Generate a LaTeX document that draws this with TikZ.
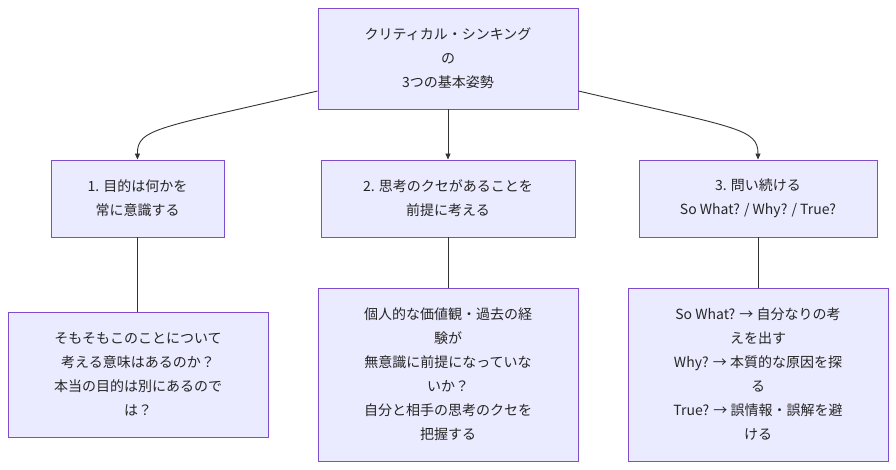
\documentclass[tikz,border=0pt]{standalone}
\usepackage{fontspec}
\setmainfont{Noto Sans CJK JP}
\usetikzlibrary{arrows.meta}
\begin{document}
\begin{tikzpicture}[x=1pt,y=-1pt,
  box/.style={draw=violet!55!blue!70!white, fill=blue!8, line width=0.9pt, align=center, font=\fontsize{14}{24}\selectfont, inner sep=0pt, text=black!85},
  conn/.style={draw=black!80, line width=0.9pt},
  arr/.style={conn,-{Triangle[length=6pt,width=5pt]}}]
\useasboundingbox (0,0) rectangle (896,470);
\node[box, minimum width=260pt, minimum height=101pt] (t) at (448,58.5) {クリティカル・シンキング\\の\\3つの基本姿勢};
\node[box, minimum width=173pt, minimum height=77pt] (a1) at (137.5,198.5) {1. 目的は何かを\\常に意識する};
\node[box, minimum width=254pt, minimum height=77pt] (a2) at (448,198.5) {2. 思考のクセがあることを\\前提に考える};
\node[box, minimum width=238pt, minimum height=77pt] (a3) at (758,198.5) {3. 問い続ける\\So What? / Why? / True?};
\node[box, minimum width=260pt, minimum height=125pt] (b1) at (138,374.5) {そもそもこのことについて\\考える意味はあるのか？\\本当の目的は別にあるので\\は？};
\node[box, minimum width=260pt, minimum height=173pt] (b2) at (448,374.5) {個人的な価値観・過去の経\\験が\\無意識に前提になっていな\\いか？\\自分と相手の思考のクセを\\把握する};
\node[box, minimum width=260pt, minimum height=173pt] (b3) at (758,374.5) {So What? → 自分なりの考\\えを出す\\Why? → 本質的な原因を探\\る\\True? → 誤情報・誤解を避\\ける};
\draw[arr] (t.west |- 0,91) .. controls (160,128) and (137,128) .. (a1.north);
\draw[arr] (t.south) -- (a2.north);
\draw[arr] (t.east |- 0,91) .. controls (736,128) and (758,128) .. (a3.north);
\draw[conn] (a1.south) -- (b1.north -| a1.south);
\draw[conn] (a2.south) -- (b2.north);
\draw[conn] (a3.south) -- (b3.north);
\end{tikzpicture}
\end{document}
